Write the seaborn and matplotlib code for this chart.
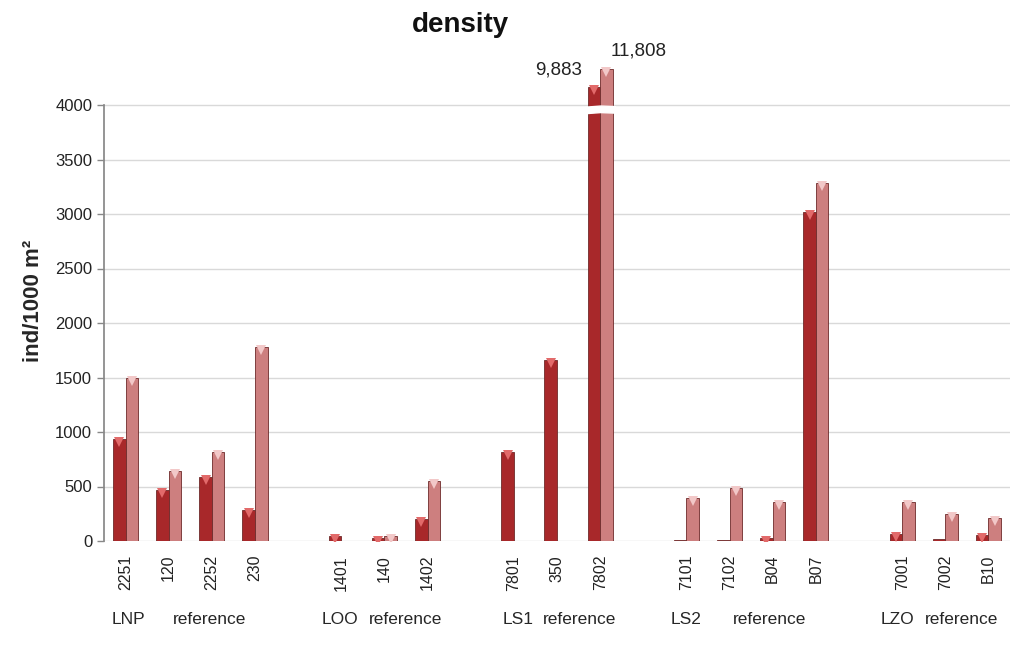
import numpy as np
import pandas as pd
import matplotlib
matplotlib.use("Agg")
import matplotlib.pyplot as plt
import seaborn as sns

# ---- data ----
sites = ["2251", "120", "2252", "230", "_g1",
         "1401", "140", "1402", "_g2",
         "7801", "350", "7802", "_g3",
         "7101", "7102", "B04", "B07", "_g4",
         "7001", "7002", "B10"]
real_sites = [s for s in sites if not s.startswith("_")]
series_names = ["dark", "light"]
dark_vals = [936, 468, 590, 281,
             49, 27, 205,
             816, 1660, 9883,
             10, 12, 30, 3018,
             67, 21, 52]
light_vals = [1498, 645, 814, 1783,
              0, 49, 553,
              0, 0, 11808,
              392, 484, 355, 3284,
              360, 245, 208]
group_names = ["LNP", "LOO", "LS1", "LS2", "LZO"]
group_sub = ["reference"] * 5
title = "density"
ylabel = "ind/1000 m²"
yticks = [0, 500, 1000, 1500, 2000, 2500, 3000, 3500, 4000]

# broken-axis display heights for the very tall bars
broken_site = "7802"
broken_display = {"dark": 4165, "light": 4330}

rows = []
for s, d, l in zip(real_sites, dark_vals, light_vals):
    dd = broken_display["dark"] if s == broken_site else d
    ll = broken_display["light"] if s == broken_site else l
    rows.append({"site": s, "series": "dark", "value": dd, "true": d})
    rows.append({"site": s, "series": "light", "value": ll, "true": l})
df = pd.DataFrame(rows)

sns.set_theme(style="white")
plt.rcParams["font.family"] = ["Liberation Sans", "DejaVu Sans"]

fig = plt.figure(figsize=(10.16, 6.58), dpi=100)
ax = fig.add_axes([104 / 1016, 117 / 658, (1010 - 104) / 1016, (541 - 61.4) / 658])

palette = {"dark": "#A8282A", "light": "#CD7F7F"}
sns.barplot(data=df, x="site", y="value", hue="series", order=sites,
            hue_order=series_names, palette=palette, width=0.58, gap=0,
            saturation=1, edgecolor="#6E2A2A", linewidth=0.6,
            legend=False, ax=ax, zorder=3)

# highlight triangles on bar tops (pseudo-3D look)
for cont, name in zip(ax.containers, series_names):
    hl = "#E26A6A" if name == "dark" else "#F2C8C8"
    for bar in cont.patches:
        h = bar.get_height()
        if np.isfinite(h) and h > 25:
            x = bar.get_x() + bar.get_width() / 2
            ax.plot(x, h - 28, marker="v", markersize=7, color=hl,
                    markeredgewidth=0, zorder=4)

# break marks on the tall bars
bi = sites.index(broken_site)
xs = np.array([bi - 0.34, bi, bi + 0.34])
ax.fill_between(xs, [3925, 3935, 3930], [3985, 3995, 3990], color="white", zorder=5)

# labels for broken values
td = df[(df.site == broken_site)]
ax.text(bi - 0.42, 4245, f"{int(td[td.series=='dark'].true.iloc[0]):,}",
        ha="right", va="bottom", fontsize=13.5, color="#222222")
ax.text(bi + 0.25, 4420, f"{int(td[td.series=='light'].true.iloc[0]):,}",
        ha="left", va="bottom", fontsize=13.5, color="#222222", clip_on=False)

ax.set_ylim(0, 4400)
ax.set_xlim(-0.5, len(sites) - 0.5)
ax.set_yticks(yticks)
ax.set_yticklabels([str(t) for t in yticks], fontsize=12, color="#222222")
ax.set_xticks(range(len(sites)))
ax.set_xticklabels(["" if s.startswith("_") else s for s in sites],
                   rotation=90, fontsize=11.5, color="#222222")
ax.tick_params(axis="x", length=0, pad=10)
ax.tick_params(axis="y", length=5, width=1, color="#888888", direction="out", left=True)
ax.yaxis.grid(True, color="#D9D9D9", linewidth=1, zorder=0)
ax.set_axisbelow(True)
for sp in ["top", "right", "bottom"]:
    ax.spines[sp].set_visible(False)
ax.spines["left"].set_color("#888888")
ax.spines["left"].set_bounds(0, 4000)
ax.set_xlabel("")
ax.set_ylabel(ylabel, fontsize=16, fontweight="bold", labelpad=8)
fig.text(460 / 1016, 1 - 25 / 658, title, ha="center", va="center",
         fontsize=20, fontweight="bold", color="#111111")

# group labels
grp_x = [(128, 210), (340, 406), (518, 580), (686, 770), (897, 962)]
for (gx, rx), g, r in zip(grp_x, group_names, group_sub):
    fig.text(gx / 1016, 1 - 620 / 658, g, ha="center", va="center", fontsize=12.5)
    fig.text(rx / 1016, 1 - 620 / 658, r, ha="center", va="center", fontsize=12.5)

fig.savefig("out.png", dpi=100)
